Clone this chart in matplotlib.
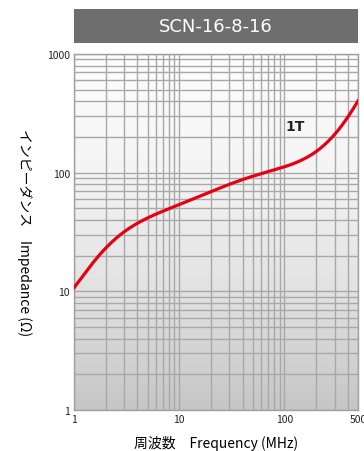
import numpy as np
import matplotlib.pyplot as plt
from matplotlib.colors import LinearSegmentedColormap
from matplotlib.ticker import FixedLocator, NullFormatter

plt.rcParams['font.family'] = ['Noto Sans CJK JP', 'DejaVu Sans']

# curve (MHz, ohm)
freq = [1, 1.27, 1.76, 2.45, 3.39, 4.22, 8.13, 15.6, 24.2, 46.6, 89.7, 139, 215, 298, 384, 478, 500]
imped = [10.8, 14, 20.6, 27.6, 34.6, 38, 49.4, 63.8, 75.2, 89.4, 109, 127, 158, 205, 283, 378, 400]

xticks = [1, 10, 100, 500]
xlabels = ['1', '10', '100', '500']
yticks = [1, 10, 100, 1000]
ylabels = ['1', '10', '100', '1000']
title = 'SCN-16-8-16'
series_label = '1T'

fig = plt.figure(figsize=(3.64, 4.52), dpi=100)
ax = fig.add_axes([0.2033, 0.0907, 0.7802, 0.7876])

# smooth line through the read points (least squares in log-log space)
lx = np.log10(freq)
ly = np.log10(imped)
coef = np.polyfit(lx, ly, 7)
xs = np.linspace(lx[0], lx[-1], 400)
ys = np.polyval(coef, xs)

# gradient background
grad = np.linspace(0, 1, 256).reshape(-1, 1)
cmap = LinearSegmentedColormap.from_list('g', ['#c6c6c6', '#e2e2e2', '#f4f4f4', '#fdfdfd'])
ax.imshow(grad, cmap=cmap, aspect='auto', extent=[0, 1, 0, 1],
          transform=ax.transAxes, origin='lower', zorder=0)

ax.plot(10**xs, 10**ys, color='#e60012', lw=2.3, zorder=3)

ax.set_xscale('log')
ax.set_yscale('log')
ax.set_xlim(1, 500)
ax.set_ylim(1, 1000)

ax.xaxis.set_major_locator(FixedLocator(xticks))
ax.set_xticklabels(xlabels)
ax.yaxis.set_major_locator(FixedLocator(yticks))
ax.set_yticklabels(ylabels)
xminor = [m * 10**e for e in range(0, 3) for m in range(2, 10) if m * 10**e < 500]
yminor = [m * 10**e for e in range(0, 3) for m in range(2, 10)]
ax.xaxis.set_minor_locator(FixedLocator(xminor))
ax.yaxis.set_minor_locator(FixedLocator(yminor))
ax.xaxis.set_minor_formatter(NullFormatter())
ax.yaxis.set_minor_formatter(NullFormatter())
ax.tick_params(which='both', length=0, labelsize=7.5, colors='#222222', pad=3)

ax.grid(True, which='both', color='#a8a8a8', lw=1.0, zorder=1)
for s in ax.spines.values():
    s.set_color('#a0a0a0')
    s.set_linewidth(1.0)

ax.text(127, 247, series_label, fontsize=10, fontweight='bold', color='#222222',
        ha='center', va='center', family='DejaVu Sans', zorder=4)

ax.set_xlabel('周波数　Frequency (MHz)', fontsize=10, labelpad=8)
ax.set_ylabel('インピーダンス　Impedance (Ω)', fontsize=10, rotation=270, va='center')
ax.yaxis.set_label_coords(-0.175, 0.5)

# title bar
tb = fig.add_axes([0.2033, 0.9027, 0.7802, 0.0752])
tb.set_facecolor('#6e6e6e')
tb.set_xticks([]); tb.set_yticks([])
for s in tb.spines.values():
    s.set_visible(False)
tb.text(0.5, 0.5, title, color='white', fontsize=13, ha='center', va='center',
        transform=tb.transAxes, family='Liberation Sans Narrow')

fig.savefig('out.png', dpi=100)
